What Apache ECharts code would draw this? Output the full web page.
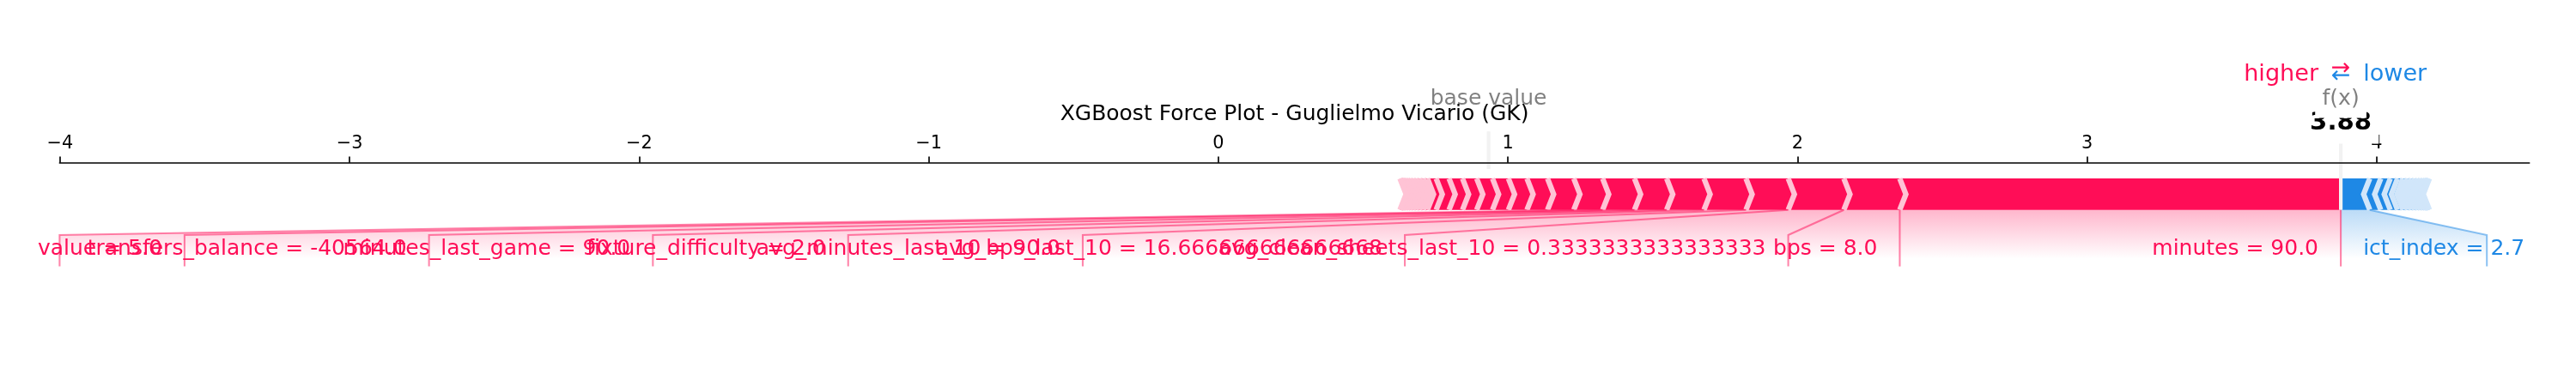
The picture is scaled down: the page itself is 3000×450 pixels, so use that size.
<!DOCTYPE html>
<html>
<head>
<meta charset="utf-8">
<script src="https://cdn.jsdelivr.net/npm/echarts@6.0.0/dist/echarts.min.js"></script>
<style>html,body{margin:0;padding:0;background:#fff;}#chart{width:3000px;height:450px;}</style>
</head>
<body>
<div id="chart"></div>
<script>
// ---------------- data ----------------
const titleText = 'XGBoost Force Plot - Guglielmo Vicario (GK)';
const outName = 'f(x)';
const baseValue = 0.933;
const posNames = ['minutes', 'bps', 'avg_clean_sheets_last_10', 'avg_bps_last_10', 'avg_minutes_last_10',
  'fixture_difficulty', 'minutes_last_game', 'transfers_balance', 'value',
  'saves', 'goals_conceded', 'influence', 'creativity', 'threat', 'selected', 'was_home',
  'avg_saves_last_10', 'avg_points_last_10', 'clean_sheets', 'form', 'transfers_in', 'transfers_out',
  'team_strength', 'opponent_strength', 'yellow_cards', 'penalties_saved', 'own_goals', 'red_cards', 'assists'];
const posValues = ['90.0', '8.0', '0.3333333333333333', '16.666666666666668', '90.0',
  '2.0', '90.0', '-40564.0', '5.0',
  '', '', '', '', '', '', '', '', '', '', '', '', '', '', '', '', '', '', '', ''];
const posShap = [1.523, 0.193, 0.192, 0.146, 0.145, 0.129, 0.111, 0.110, 0.0996,
  0.0907, 0.071, 0.064, 0.055, 0.0546, 0.049, 0.0465, 0.0445, 0.030,
  0.014, 0.013, 0.012, 0.011, 0.010, 0.009, 0.008, 0.007, 0.005, 0.004, 0.002];
const negNames = ['ict_index', 'goals_scored', 'expected_goals', 'expected_assists', 'bonus',
  'element_type', 'opponent_team', 'kickoff_hour', 'avg_threat_last_10', 'avg_creativity_last_10',
  'expected_goals_conceded', 'starts', 'penalties_missed', 'avg_influence_last_10', 'assists_last_10'];
const negValues = ['2.7', '', '', '', '', '', '', '', '', '', '', '', '', '', ''];
const negShap = [0.100, 0.038, 0.033, 0.025, 0.019, 0.015, 0.013, 0.012, 0.011, 0.010, 0.009, 0.008, 0.006, 0.004, 0.003];
const xTicks = [-4, -3, -2, -1, 0, 1, 2, 3, 4];

// ---------------- constants (style) ----------------
const PT = 150 / 72;
const FONT = '"DejaVu Sans", sans-serif';
const PINK = '#FF0D57', PINK_L = '#FFC3D5', BLUE = '#1E88E5', BLUE_L = '#D1E6FA';
const WB = 0.1;            // bar height in data units
const AXES_W0 = 2335;      // axes width (px) at the time labels were laid out
const PAD = 4 * PT;        // text bbox pad
const BASE_K = 0.346;      // canvas 'middle' -> alphabetic baseline offset (em)
const GRID = {left: 69.4, right: 54.3, top: 189.8, bottom: 22.3};

// ---------------- shap force-plot layout ----------------
const sum = a => a.reduce((s, v) => s + v, 0);
const outValue = baseValue + sum(posShap) - sum(negShap);
const posPos = []; { let v = outValue; posShap.forEach(s => { v -= Math.abs(s); posPos.push(v); }); }
const negPos = []; { let v = outValue; negShap.forEach(s => { v += Math.abs(s); negPos.push(v); }); }
const totalPos = Math.max(...posPos) - Math.min(...posPos);
const totalNeg = Math.max(...negPos) - Math.min(...negPos);
const padding = Math.max(totalPos * 0.2, totalNeg * 0.2);
const xMin0 = Math.min(Math.min(...posPos), baseValue) - padding;
const xMax0 = Math.max(Math.max(...negPos), baseValue) + padding;
const sepW = (xMax0 - xMin0) / 200;
const totalEffect = totalPos + totalNeg;
const offsetText = totalEffect * 0.04;
const unit0 = AXES_W0 / (xMax0 - xMin0);

const mctx = document.createElement('canvas').getContext('2d');
function inkW(t, size, weight) {
  mctx.font = (weight || 'normal') + ' ' + size + 'px ' + FONT;
  const m = mctx.measureText(t);
  return m.actualBoundingBoxLeft + m.actualBoundingBoxRight;
}
function advW(t, size, weight) {
  mctx.font = (weight || 'normal') + ' ' + size + 'px ' + FONT;
  return mctx.measureText(t).width;
}

function layoutLabels(positions, names, values, type) {
  const sign = type === 'pos' ? 1 : -1;
  let startText = outValue, preVal = outValue, boxEnd = outValue;
  const texts = [], lines = [];
  if (type === 'pos') lines.push([[outValue, 0], [outValue, -0.18]]);
  for (let i = 0; i < positions.length; i++) {
    if (Math.abs(positions[i] - preVal) / Math.abs(totalEffect) < 0.05) break;
    const val = positions[i];
    const text = values[i] === '' ? names[i] : names[i] + ' = ' + values[i];
    const ax = startText - sign * offsetText;
    const w = inkW(text, 12 * PT);
    const be = type === 'pos' ? ax - (w + PAD) / unit0 : ax + (w + PAD) / unit0;
    if (be > xMax0) break;
    texts.push({x: ax, text: text});
    if (sign * be > sign * val) {
      lines.push([[val, 0], [val, -0.18]]);
      startText = val; boxEnd = val;
    } else {
      boxEnd = be - sign * offsetText;
      lines.push([[val, 0], [boxEnd, -0.08], [boxEnd, -0.18]]);
      startText = boxEnd;
    }
    preVal = val;
  }
  return {texts, lines, preVal, boxEnd};
}
const negL = layoutLabels(negPos, negNames, negValues, 'neg');
const posL = layoutLabels(posPos, posNames, posValues, 'pos');
const xMin = Math.min(xMin0, posL.boxEnd);
const xMax = Math.max(xMax0, negL.boxEnd);

function barShapes(positions, type) {
  const res = [];
  let pre = outValue;
  positions.forEach((p, i) => {
    let left, right, ind, sepPos;
    if (type === 'pos') { left = p; right = pre; pre = left; ind = Math.abs(sepW); sepPos = left; }
    else { left = pre; right = p; pre = right; ind = -Math.abs(sepW); sepPos = right; }
    let rect;
    if (i === 0) {
      rect = type === 'pos'
        ? [[left, 0], [right, 0], [right, WB], [left, WB], [left + ind, WB / 2]]
        : [[right, 0], [left, 0], [left, WB], [right, WB], [right + ind, WB / 2]];
    } else {
      rect = [[left, 0], [right, 0], [right + ind * 0.9, WB / 2], [right, WB], [left, WB], [left + ind * 0.9, WB / 2]];
    }
    res.push({rect, sep: [[sepPos, 0], [sepPos + ind, WB / 2], [sepPos, WB]]});
  });
  return res;
}
const negBars = barShapes(negPos, 'neg');
const posBars = barShapes(posPos, 'pos');

// ---------------- rendering ----------------
function txt(p, text, size, color, align, weight) {
  return {type: 'text', silent: true, style: {text: text, x: p[0], y: p[1] - BASE_K * size, fill: color,
    font: (weight || 'normal') + ' ' + size + 'px ' + FONT, align: align, verticalAlign: 'middle'}};
}
function whiteBox(p, text, size, weight) {
  const w = advW(text, size, weight);
  return {type: 'rect', silent: true, shape: {x: p[0] - w / 2 - PAD, y: p[1] - 0.76 * size - PAD,
    width: w + 2 * PAD, height: 0.968 * size + 2 * PAD}, style: {fill: '#fff', stroke: null}};
}

function renderShapes(params, api) {
  const C = p => api.coord(p);
  const ch = [];
  // label shading (imshow gradient, zorder 0)
  [[negL, 'rgba(30,136,229,'], [posL, 'rgba(255,13,87,']].forEach(([L, c]) => {
    const pts = [[outValue, 0], [L.preVal, 0], [L.boxEnd, -0.08], [L.boxEnd, -0.2], [outValue, -0.2]].map(C);
    const y0 = C([0, 0])[1], y1 = C([0, -0.1552])[1];
    ch.push({type: 'polygon', silent: true, shape: {points: pts}, style: {
      fill: new echarts.graphic.LinearGradient(0, y0, 0, y1, [{offset: 0, color: c + '0.3)'}, {offset: 1, color: c + '0)'}], true),
      stroke: null}});
  });
  // bars and separators
  [[negBars, BLUE, BLUE_L], [posBars, PINK, PINK_L]].forEach(([bars, c, cl]) => {
    bars.forEach(b => ch.push({type: 'polygon', silent: true, shape: {points: b.rect.map(C)}, style: {fill: c, stroke: null}}));
    bars.forEach(b => ch.push({type: 'polyline', silent: true, shape: {points: b.sep.map(C)},
      style: {stroke: cl, lineWidth: 3 * PT, fill: null, lineJoin: 'miter'}}));
  });
  // label connector lines
  [[negL, 'rgba(30,136,229,0.5)'], [posL, 'rgba(255,13,87,0.5)']].forEach(([L, c]) => {
    L.lines.forEach(l => ch.push({type: 'polyline', silent: true, shape: {points: l.map(C)},
      style: {stroke: c, lineWidth: 1 * PT, fill: null}}));
  });
  // base value and output lines
  ch.push({type: 'line', silent: true, shape: {x1: C([baseValue, 0.13])[0], y1: C([baseValue, 0.13])[1], x2: C([baseValue, 0.25])[0], y2: C([baseValue, 0.25])[1]},
    style: {stroke: '#F2F2F2', lineWidth: 2 * PT}});
  ch.push({type: 'line', silent: true, shape: {x1: C([outValue, 0])[0], y1: C([outValue, 0])[1], x2: C([outValue, 0.24])[0], y2: C([outValue, 0.24])[1]},
    style: {stroke: '#F2F2F2', lineWidth: 2 * PT}});
  return {type: 'group', children: ch};
}

function renderTexts(params, api) {
  const C = p => api.coord(p);
  const ch = [];
  negL.texts.forEach(t => ch.push(txt(C([t.x, -0.15]), t.text, 12 * PT, BLUE, 'left')));
  posL.texts.forEach(t => ch.push(txt(C([t.x, -0.15]), t.text, 12 * PT, PINK, 'right')));
  ch.push(txt(C([outValue - offsetText, 0.405]), 'higher', 13 * PT, PINK, 'right'));
  ch.push(txt(C([outValue + offsetText, 0.405]), 'lower', 13 * PT, BLUE, 'left'));
  ch.push(txt(C([outValue, 0.4]), '\u2190', 13 * PT, BLUE, 'center'));
  ch.push(txt(C([outValue, 0.425]), '\u2192', 13 * PT, PINK, 'center'));
  const pb = C([baseValue, 0.33]);
  ch.push(whiteBox(pb, 'base value', 12 * PT));
  ch.push(txt(pb, 'base value', 12 * PT, 'rgba(0,0,0,0.5)', 'center'));
  const outLabel = outValue.toFixed(2);
  const po = C([outValue, 0.25]);
  ch.push(whiteBox(po, outLabel, 14 * PT, 'bold'));
  ch.push(txt(po, outLabel, 14 * PT, '#000', 'center', 'bold'));
  const pf = C([outValue, 0.33]);
  ch.push(whiteBox(pf, outName, 12 * PT));
  ch.push(txt(pf, outName, 12 * PT, 'rgba(0,0,0,0.5)', 'center'));
  return {type: 'group', children: ch};
}

const titleSize = 12 * PT;
const titleCenter = (GRID.left + (3000 - GRID.right)) / 2;
const chart = echarts.init(document.getElementById('chart'), null, {renderer: 'canvas'});
chart.setOption({
  animation: false,
  backgroundColor: '#fff',
  title: {text: titleText, left: titleCenter - advW(titleText, titleSize) / 2, top: 141.7 - BASE_K * titleSize - titleSize / 2,
    padding: 0, z: 10, textStyle: {fontFamily: FONT, fontSize: titleSize, fontWeight: 'normal', color: '#000', lineHeight: titleSize}},
  grid: Object.assign({containLabel: false, outerBoundsMode: 'none'}, GRID),
  xAxis: {type: 'value', position: 'top', min: xMin, max: xMax, z: 3,
    axisLine: {show: true, onZero: false, lineStyle: {color: '#000', width: 0.8 * PT}},
    axisTick: {show: true, customValues: xTicks, length: 3.5 * PT, lineStyle: {color: '#000', width: 0.8 * PT}},
    axisLabel: {show: true, customValues: xTicks, margin: 12, fontFamily: FONT, fontSize: 10 * PT, color: '#000', lineHeight: 21,
      formatter: v => (v < 0 ? '\u2212' + Math.abs(v) : String(v))},
    splitLine: {show: false}},
  yAxis: {type: 'value', min: -0.5, max: 0.15, show: false},
  series: [
    {type: 'custom', coordinateSystem: 'cartesian2d', z: 2, clip: false, silent: true, data: [[0, 0]], renderItem: renderShapes},
    {type: 'custom', coordinateSystem: 'cartesian2d', z: 4, clip: false, silent: true, data: [[0, 0]], renderItem: renderTexts}
  ]
});
</script>
</body>
</html>
